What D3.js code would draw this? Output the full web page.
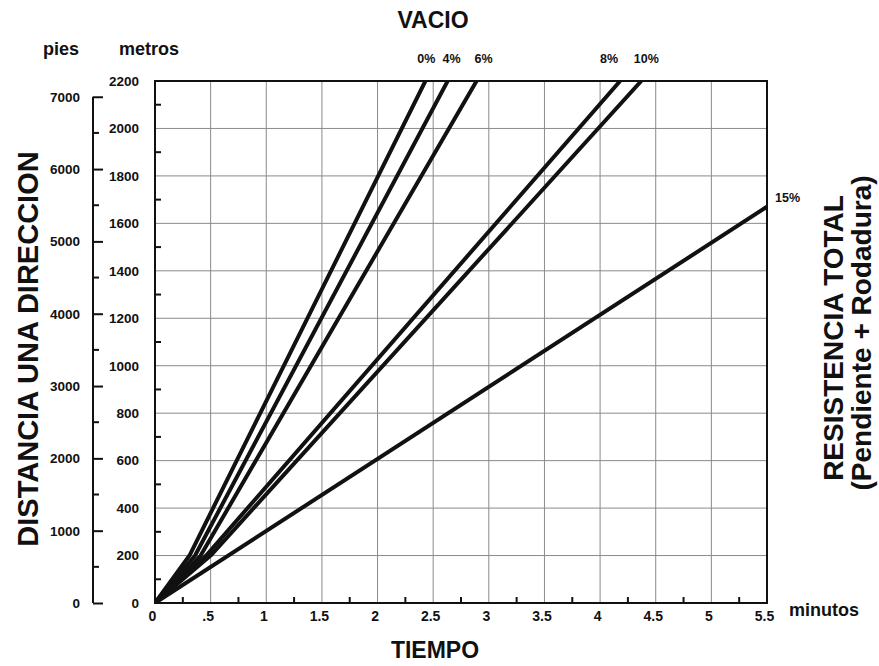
<!DOCTYPE html>
<html>
<head>
<meta charset="utf-8">
<script src="https://cdn.jsdelivr.net/npm/d3@7"></script>
<style>
  body { margin: 0; background: #fff; }
  text { font-family: "Liberation Sans", Arial, sans-serif; font-weight: bold; fill: #111; }
</style>
</head>
<body>
<div id="chart"></div>
<script>
// curvas de tiempo de viaje (vacio), por resistencia total
const gradeLabels = ["0%", "4%", "6%", "8%", "10%", "15%"];
const curveMinutes = [
    [0, 0.31, 2.43],
    [0, 0.36, 2.63],
    [0, 0.41, 2.89],
    [0, 0.46, 4.18],
    [0, 0.50, 4.37],
    [0, 5.5]
];
const curveMetres = [
    [0, 200, 2200],
    [0, 200, 2200],
    [0, 200, 2200],
    [0, 200, 2200],
    [0, 200, 2200],
    [0, 1670]
];

// ejes
const minuteTicks = [0, 0.5, 1, 1.5, 2, 2.5, 3, 3.5, 4, 4.5, 5, 5.5];
const minuteMinor = [0.25, 0.75, 1.25, 1.75, 2.25, 2.75, 3.25, 3.75, 4.25, 4.75, 5.25];
const metreTicks = [0, 200, 400, 600, 800, 1000, 1200, 1400, 1600, 1800, 2000, 2200];
const metreMinor = [100, 300, 500, 700, 900, 1100, 1300, 1500, 1700, 1900, 2100];
const feetTicks = [0, 1000, 2000, 3000, 4000, 5000, 6000, 7000];
const feetMinor = [500, 1500, 2500, 3500, 4500, 5500, 6500];

const W = 879, H = 666;
const plot = { left: 155, right: 767, top: 81, bottom: 603 };
// pequeño desplazamiento horizontal de las etiquetas de pendiente (px)
const labelNudge = { "0%": 1, "4%": 4, "6%": 7, "8%": -11, "10%": 5 };

const svg = d3.select("#chart").append("svg")
    .attr("width", W)
    .attr("height", H);

const x = d3.scaleLinear().domain([0, 5.5]).range([plot.left, plot.right]);
const y = d3.scaleLinear().domain([0, 2200]).range([plot.bottom, plot.top]);
const yFt = d3.scaleLinear().domain([0, 2200 / 0.3048]).range([plot.bottom, plot.top]);

// rejilla
svg.append("g").selectAll("line")
    .data(metreTicks.slice(1, -1))
    .enter().append("line")
    .attr("x1", plot.left).attr("x2", plot.right)
    .attr("y1", d => y(d)).attr("y2", d => y(d))
    .attr("stroke", "#8a8a8a").attr("stroke-width", 1);

svg.append("g").selectAll("line")
    .data(minuteTicks.slice(1, -1))
    .enter().append("line")
    .attr("x1", d => x(d)).attr("x2", d => x(d))
    .attr("y1", plot.top).attr("y2", plot.bottom)
    .attr("stroke", "#8a8a8a").attr("stroke-width", 1);

// marcas menores
svg.append("g").selectAll("line")
    .data(metreMinor)
    .enter().append("line")
    .attr("x1", plot.left).attr("x2", plot.left + 6)
    .attr("y1", d => y(d)).attr("y2", d => y(d))
    .attr("stroke", "#111").attr("stroke-width", 2);

svg.append("g").selectAll("line")
    .data(minuteMinor)
    .enter().append("line")
    .attr("x1", d => x(d)).attr("x2", d => x(d))
    .attr("y1", plot.bottom).attr("y2", plot.bottom - 6)
    .attr("stroke", "#111").attr("stroke-width", 2);

// marco
svg.append("rect")
    .attr("x", plot.left).attr("y", plot.top)
    .attr("width", plot.right - plot.left)
    .attr("height", plot.bottom - plot.top)
    .attr("fill", "none").attr("stroke", "#111").attr("stroke-width", 2);

// eje metros
const metreAxis = svg.append("g")
    .attr("transform", `translate(${plot.left},0)`)
    .call(d3.axisLeft(y).tickValues(metreTicks).tickSize(0).tickPadding(16)
        .tickFormat(d3.format("d")));
metreAxis.select(".domain").remove();
metreAxis.selectAll("text").style("font-size", "13.5px").attr("fill", "#111");

// eje pies
const feetX = 93;
svg.append("line")
    .attr("x1", feetX).attr("x2", feetX)
    .attr("y1", yFt(0)).attr("y2", yFt(7000))
    .attr("stroke", "#111").attr("stroke-width", 2);
const feetAxis = svg.append("g")
    .attr("transform", `translate(${feetX},0)`)
    .call(d3.axisLeft(yFt).tickValues(feetTicks).tickSize(-10).tickPadding(13)
        .tickFormat(d3.format("d")));
feetAxis.select(".domain").remove();
feetAxis.selectAll(".tick line").attr("stroke", "#111").attr("stroke-width", 2);
feetAxis.selectAll("text").style("font-size", "13.5px").attr("fill", "#111");
svg.append("g").selectAll("line")
    .data(feetMinor)
    .enter().append("line")
    .attr("x1", feetX).attr("x2", feetX + 6)
    .attr("y1", d => yFt(d)).attr("y2", d => yFt(d))
    .attr("stroke", "#111").attr("stroke-width", 2);

// eje minutos
const minuteAxis = svg.append("g")
    .attr("transform", `translate(-3,${plot.bottom})`)
    .call(d3.axisBottom(x).tickValues(minuteTicks).tickSize(0).tickPadding(8)
        .tickFormat(d => d === 0.5 ? ".5" : String(d)));
minuteAxis.select(".domain").remove();
minuteAxis.selectAll("text").style("font-size", "14px").attr("fill", "#111");

// curvas
svg.append("clipPath").attr("id", "clip")
    .append("rect")
    .attr("x", plot.left).attr("y", plot.top)
    .attr("width", plot.right - plot.left)
    .attr("height", plot.bottom - plot.top);

const line = d3.line()
    .x(d => x(d[0]))
    .y(d => y(d[1]));

const curves = gradeLabels.map((g, i) => ({
    grade: g,
    points: curveMinutes[i].map((t, j) => [t, curveMetres[i][j]])
}));

svg.append("g").attr("clip-path", "url(#clip)")
    .selectAll("path")
    .data(curves)
    .enter().append("path")
    .attr("d", d => line(d.points))
    .attr("fill", "none")
    .attr("stroke", "#111")
    .attr("stroke-width", 4)
    .attr("stroke-linejoin", "round");

// etiquetas de pendiente
const lastPt = d => d.points[d.points.length - 1];
svg.append("g").selectAll("text")
    .data(curves)
    .enter().append("text")
    .attr("x", d => lastPt(d)[1] >= 2200 ? x(lastPt(d)[0]) + (labelNudge[d.grade] || 0) : x(lastPt(d)[0]) + 8)
    .attr("y", d => lastPt(d)[1] >= 2200 ? 63 : y(lastPt(d)[1]) - 5)
    .attr("text-anchor", d => lastPt(d)[1] >= 2200 ? "middle" : "start")
    .style("font-size", "12.5px")
    .text(d => d.grade);

// titulos
svg.append("text").attr("x", 433).attr("y", 28)
    .attr("text-anchor", "middle").style("font-size", "23px").text("VACIO");
svg.append("text").attr("x", 435).attr("y", 658)
    .attr("text-anchor", "middle").style("font-size", "23px").text("TIEMPO");
svg.append("text").attr("x", 61).attr("y", 55)
    .attr("text-anchor", "middle").style("font-size", "18px").text("pies");
svg.append("text").attr("x", 149).attr("y", 55)
    .attr("text-anchor", "middle").style("font-size", "18px").text("metros");
svg.append("text").attr("x", 789).attr("y", 616)
    .style("font-size", "18px").text("minutos");

svg.append("text")
    .attr("transform", "translate(38,349) rotate(-90)")
    .attr("text-anchor", "middle").style("font-size", "29px")
    .text("DISTANCIA UNA DIRECCION");
svg.append("text")
    .attr("transform", "translate(843,338) rotate(-90)")
    .attr("text-anchor", "middle").style("font-size", "28px")
    .text("RESISTENCIA TOTAL");
svg.append("text")
    .attr("transform", "translate(871,333) rotate(-90)")
    .attr("text-anchor", "middle").style("font-size", "28px")
    .text("(Pendiente + Rodadura)");
</script>
</body>
</html>
